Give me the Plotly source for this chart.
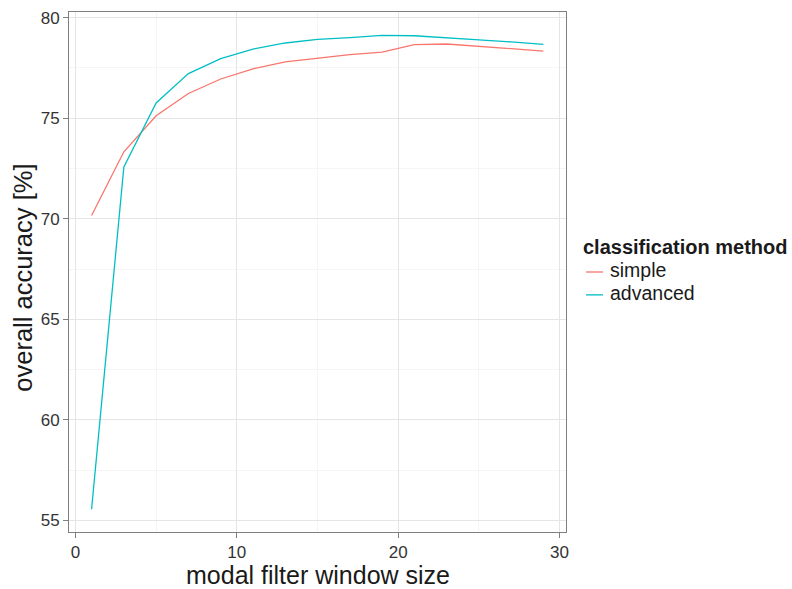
import plotly.graph_objects as go

# modal filter window sizes and overall accuracy per classification method
window_size = [1, 3, 5, 7, 9, 11, 13, 15, 17, 19, 21, 23, 25, 27, 29]
acc_simple = [70.16, 73.33, 75.12, 76.23, 76.95, 77.45, 77.80, 77.98, 78.16, 78.29,
              78.66, 78.69, 78.59, 78.46, 78.34]
acc_advanced = [55.56, 72.58, 75.76, 77.22, 77.96, 78.44, 78.74, 78.92, 79.01, 79.12,
                79.10, 79.01, 78.89, 78.79, 78.67]
series_names = ["simple", "advanced"]
series_colors = ["#F8766D", "#00BFC4"]
x_ticks = [0, 10, 20, 30]
y_ticks = [55, 60, 65, 70, 75, 80]
legend_title = "classification method"

FONT = "Liberation Sans, Arial, sans-serif"
TEXT = "#1a1a1a"

fig = go.Figure()
for name, vals, col in zip(series_names, [acc_simple, acc_advanced], series_colors):
    fig.add_trace(go.Scatter(
        x=window_size, y=vals, mode="lines", name=name,
        line=dict(color=col, width=1.3), showlegend=False,
    ))

axis_common = dict(
    showline=True, mirror=True, linecolor="#7f7f7f", linewidth=1,
    ticks="outside", ticklen=5, tickcolor="#7f7f7f", tickwidth=1,
    showgrid=True, gridcolor="#e5e5e5", gridwidth=1,
    zeroline=False, automargin=False,
    tickfont=dict(family=FONT, size=17, color="#333333"),
)

fig.update_xaxes(
    **axis_common,
    range=[-0.4, 30.4],
    tickvals=x_ticks,
    minor=dict(dtick=5, tick0=0, showgrid=True, gridcolor="#f5f5f5", ticks=""),
)
fig.update_yaxes(
    **axis_common,
    range=[54.43, 80.28],
    tickvals=y_ticks,
    minor=dict(dtick=2.5, tick0=55, showgrid=True, gridcolor="#f5f5f5", ticks=""),
)

# axis titles
fig.add_annotation(
    text="modal filter window size",
    xref="paper", yref="paper", x=0.5, y=-0.082,
    xanchor="center", yanchor="middle", showarrow=False,
    font=dict(family=FONT, size=25, color=TEXT),
)
fig.add_annotation(
    text="overall accuracy [%]", textangle=-90,
    xref="paper", yref="paper", x=-0.0926, y=0.489,
    xanchor="center", yanchor="middle", showarrow=False,
    font=dict(family=FONT, size=25.5, color=TEXT),
)

# legend: title, short line keys and labels
fig.add_annotation(
    text="<b>" + legend_title + "</b>",
    xref="paper", yref="paper", x=1.030, y=0.548,
    xanchor="left", yanchor="middle", showarrow=False,
    font=dict(family=FONT, size=20, color=TEXT),
)
legend_rows = [0.500, 0.456]
for name, col, ly in zip(series_names, series_colors, legend_rows):
    fig.add_shape(
        type="line", xref="paper", yref="paper",
        x0=1.0402, x1=1.0744, y0=ly, y1=ly,
        line=dict(color=col, width=1.3),
    )
    fig.add_annotation(
        text=name, xref="paper", yref="paper", x=1.0845, y=ly + 0.004,
        xanchor="left", yanchor="middle", showarrow=False,
        font=dict(family=FONT, size=19.5, color=TEXT),
    )

fig.update_layout(
    width=792, height=589,
    margin=dict(l=69, r=226, t=12, b=57),
    plot_bgcolor="white", paper_bgcolor="white",
    font=dict(family=FONT, size=17, color=TEXT),
)

fig.write_html("out.html")
